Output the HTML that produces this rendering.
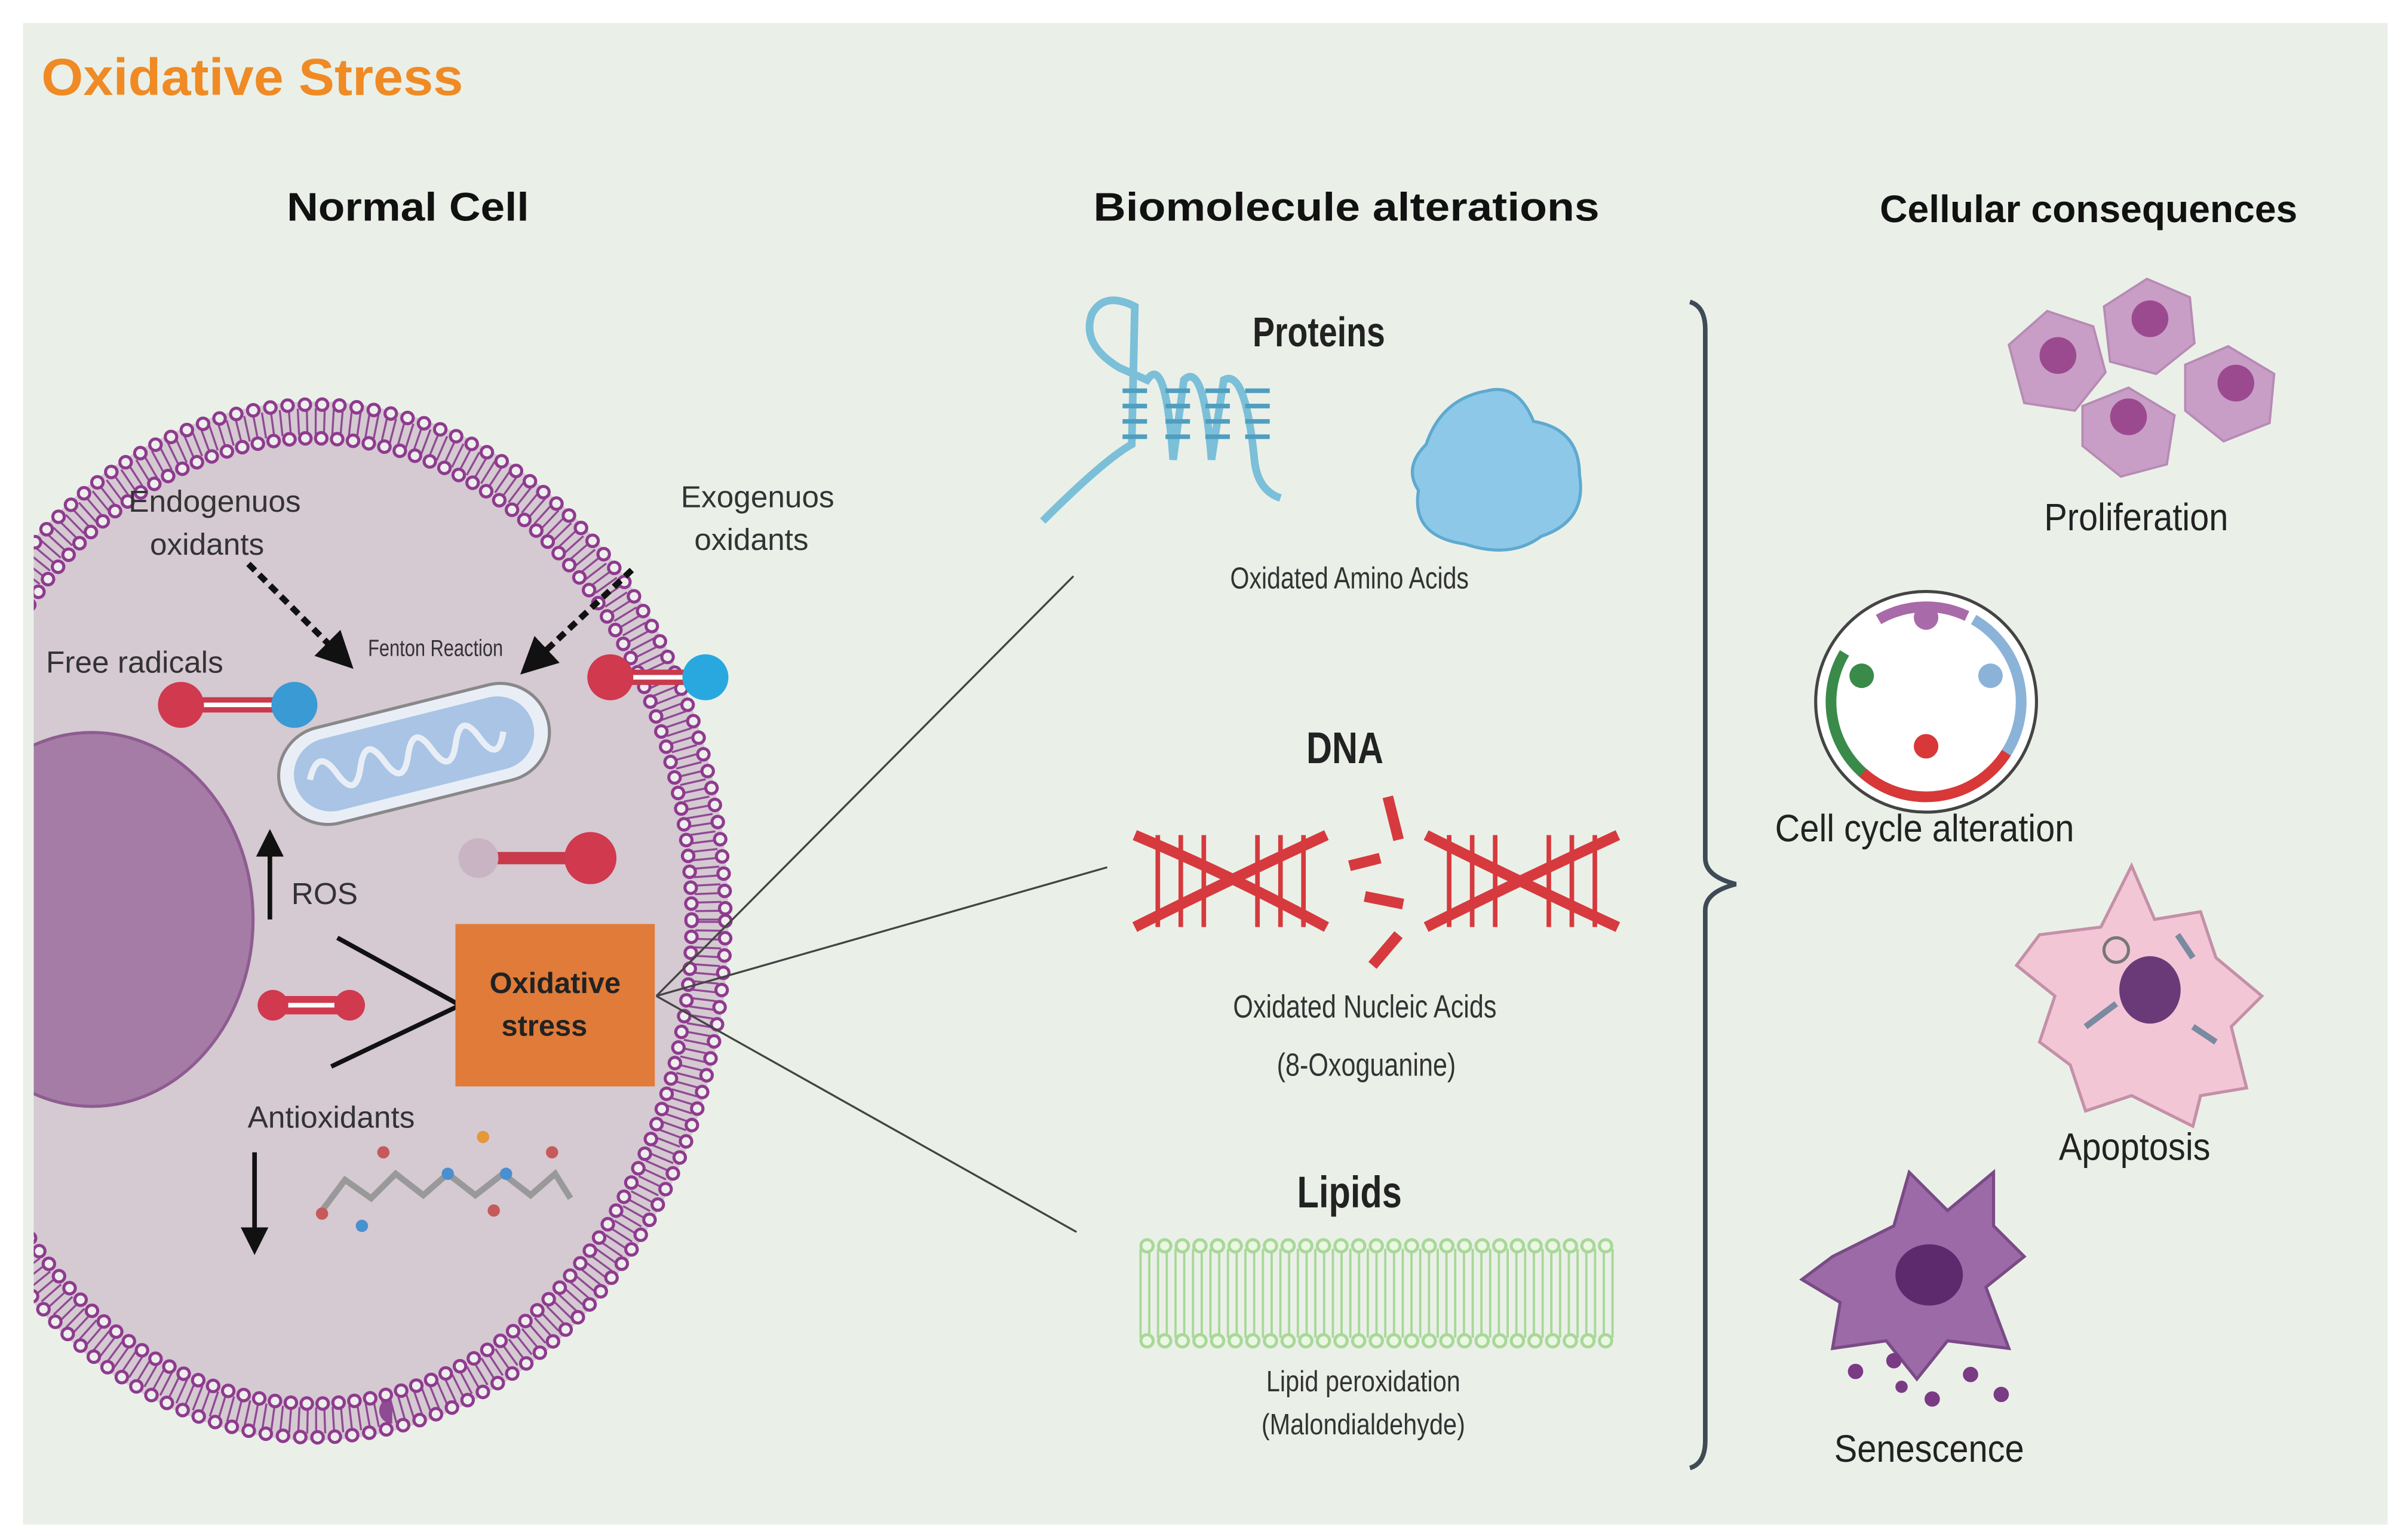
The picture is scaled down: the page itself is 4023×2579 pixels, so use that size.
<!DOCTYPE html>
<html><head><meta charset="utf-8"><style>
html,body{margin:0;padding:0;background:#fff}
svg{display:block}
text{font-family:"Liberation Sans",sans-serif}
</style></head><body>
<svg width="4023" height="2579" viewBox="0 0 1567 1005" preserveAspectRatio="none" xmlns="http://www.w3.org/2000/svg">
<defs>
<clipPath id="cl"><rect x="22" y="0" width="1600" height="1005"/></clipPath>
<marker id="ah" markerWidth="6" markerHeight="6" refX="3" refY="3" orient="auto"><path d="M0,0 L6,3 L0,6 z" fill="#111"/></marker>
</defs>
<rect x="0" y="0" width="1567" height="1005" fill="#fff"/>
<rect x="15" y="15" width="1542" height="980" fill="#eaf0e8"/>
<text x="27" y="62" font-size="34" font-weight="bold" fill="#f08a24" textLength="275" lengthAdjust="spacingAndGlyphs">Oxidative Stress</text>
<text x="187" y="144" font-size="26" font-weight="bold" fill="#111" textLength="158" lengthAdjust="spacingAndGlyphs">Normal Cell</text>
<text x="713" y="144" font-size="26" font-weight="bold" fill="#111" textLength="330" lengthAdjust="spacingAndGlyphs">Biomolecule  alterations</text>
<text x="1362" y="145" font-size="25" font-weight="bold" text-anchor="middle" fill="#111">Cellular consequences</text>

<g clip-path="url(#cl)">
<ellipse cx="205" cy="601" rx="270" ry="339" fill="#d5c9d2"/>
<ellipse cx="205" cy="601" rx="257" ry="326" fill="none" stroke="#8e4a92" stroke-width="17" stroke-dasharray="1.3 4.35"/>
<ellipse cx="205" cy="601" rx="268" ry="337" fill="none" stroke="#8e3a8e" stroke-width="9.5" stroke-linecap="round" stroke-dasharray="0 11.3"/>
<ellipse cx="205" cy="601" rx="268" ry="337" fill="none" stroke="#eee" stroke-width="5.5" stroke-linecap="round" stroke-dasharray="0 11.3"/>
<ellipse cx="205" cy="601" rx="246" ry="315" fill="none" stroke="#8e3a8e" stroke-width="9.5" stroke-linecap="round" stroke-dasharray="0 10.4"/>
<ellipse cx="205" cy="601" rx="246" ry="315" fill="none" stroke="#eee" stroke-width="5.5" stroke-linecap="round" stroke-dasharray="0 10.4"/>
<ellipse cx="60" cy="600" rx="105" ry="122" fill="#a57ca6" stroke="#8d5c90" stroke-width="2"/>
</g>

<g stroke="#444" stroke-width="1.3">
<line x1="428" y1="650" x2="700" y2="376"/>
<line x1="428" y1="650" x2="722" y2="566"/>
<line x1="428" y1="650" x2="702" y2="804"/>
</g>

<text x="140" y="334" font-size="20" text-anchor="middle" fill="#333">Endogenuos</text>
<text x="135" y="362" font-size="20" text-anchor="middle" fill="#333">oxidants</text>
<text x="494" y="331" font-size="20" text-anchor="middle" fill="#333">Exogenuos</text>
<text x="490" y="359" font-size="20" text-anchor="middle" fill="#333">oxidants</text>
<text x="30" y="439" font-size="20" fill="#333">Free radicals</text>
<text x="284" y="428" font-size="15" text-anchor="middle" fill="#333" transform="translate(284 0) scale(0.8 1) translate(-284 0)">Fenton Reaction</text>
<line x1="162" y1="368" x2="222" y2="428" stroke="#111" stroke-width="4" stroke-dasharray="6,4" marker-end="url(#ah)"/>
<line x1="412" y1="372" x2="348" y2="432" stroke="#111" stroke-width="4" stroke-dasharray="6,4" marker-end="url(#ah)"/>
<g><line x1="118" y1="460" x2="190" y2="460" stroke="#c83a4c" stroke-width="10"/><line x1="130" y1="460" x2="190" y2="460" stroke="#fff" stroke-width="3"/><circle cx="118" cy="460" r="15" fill="#d0394e"/><circle cx="192" cy="460" r="15" fill="#3a9ad4"/></g>
<g><line x1="398" y1="442" x2="460" y2="442" stroke="#c83a4c" stroke-width="10"/><line x1="410" y1="442" x2="450" y2="442" stroke="#fff" stroke-width="3"/><circle cx="398" cy="442" r="15" fill="#d0394e"/><circle cx="460" cy="442" r="15" fill="#29a8e0"/></g>
<g><line x1="312" y1="560" x2="384" y2="560" stroke="#c83a4c" stroke-width="8"/><circle cx="312" cy="560" r="13" fill="#c9b4c4"/><circle cx="385" cy="560" r="17" fill="#d0394e"/></g>
<g><line x1="178" y1="656" x2="226" y2="656" stroke="#d0394e" stroke-width="12"/><line x1="185" y1="656" x2="220" y2="656" stroke="#fff" stroke-width="3"/><circle cx="178" cy="656" r="10" fill="#d0394e"/><circle cx="228" cy="656" r="10" fill="#d0394e"/></g>
<g transform="rotate(-14 270 492)">
<rect x="180" y="460" width="180" height="64" rx="32" fill="#e9eef6" stroke="#888" stroke-width="2"/>
<rect x="190" y="468" width="160" height="48" rx="24" fill="#a9c4e4"/>
<path d="M200 492 q10 -20 18 0 q8 20 16 0 q8 -20 16 0 q8 20 16 0 q8 -20 16 0 q8 20 16 0 q8 -20 16 0 q8 20 16 0" stroke="#e9eef6" stroke-width="4" fill="none"/>
</g>
<line x1="176" y1="600" x2="176" y2="550" stroke="#111" stroke-width="3" marker-end="url(#ah)"/>
<text x="190" y="590" font-size="20" fill="#333">ROS</text>
<polyline points="220,612 300,656 216,696" fill="none" stroke="#111" stroke-width="3"/>
<rect x="297" y="603" width="130" height="106" fill="#e07b39"/>
<text x="362" y="648" font-size="19" font-weight="bold" text-anchor="middle" fill="#222">Oxidative</text>
<text x="355" y="676" font-size="19" font-weight="bold" text-anchor="middle" fill="#222">stress</text>
<text x="216" y="736" font-size="20" text-anchor="middle" fill="#333">Antioxidants</text>
<line x1="166" y1="752" x2="166" y2="810" stroke="#111" stroke-width="3" marker-end="url(#ah)"/>
<polyline points="210,790 225,770 242,782 258,766 276,780 292,766 310,780 328,766 346,780 362,766 372,782" fill="none" stroke="#999" stroke-width="4"/>
<g fill="#c65a5a"><circle cx="210" cy="792" r="4"/><circle cx="250" cy="752" r="4"/><circle cx="322" cy="790" r="4"/><circle cx="360" cy="752" r="4"/></g>
<g fill="#4a8fd0"><circle cx="236" cy="800" r="4"/><circle cx="292" cy="766" r="4"/><circle cx="330" cy="766" r="4"/></g>
<circle cx="315" cy="742" r="4" fill="#e5973a"/>

<path d="M680 340 Q720 300 738 290 L740 200 Q720 190 712 205 Q705 225 730 240 L748 248 Q760 230 765 300 L772 248 Q785 235 790 300 L798 248 Q812 240 818 300 Q820 320 835 325" fill="none" stroke="#7cbfd8" stroke-width="5"/>
<g stroke="#4f9ec0" stroke-width="3">
<line x1="732" y1="255" x2="748" y2="255"/><line x1="732" y1="265" x2="748" y2="265"/><line x1="732" y1="275" x2="748" y2="275"/><line x1="732" y1="285" x2="748" y2="285"/>
<line x1="760" y1="255" x2="776" y2="255"/><line x1="760" y1="265" x2="776" y2="265"/><line x1="760" y1="275" x2="776" y2="275"/><line x1="760" y1="285" x2="776" y2="285"/>
<line x1="786" y1="255" x2="802" y2="255"/><line x1="786" y1="265" x2="802" y2="265"/><line x1="786" y1="275" x2="802" y2="275"/><line x1="786" y1="285" x2="802" y2="285"/>
<line x1="812" y1="255" x2="828" y2="255"/><line x1="812" y1="265" x2="828" y2="265"/><line x1="812" y1="275" x2="828" y2="275"/><line x1="812" y1="285" x2="828" y2="285"/>
</g>
<path d="M930 290 q10 -30 40 -35 q20 -5 30 20 q30 5 30 35 q5 30 -25 40 q-20 15 -50 5 q-35 -5 -30 -35 q-10 -15 5 -30z" fill="#8ec8e8" stroke="#5ea9d0" stroke-width="2"/>
<text x="860" y="226" font-size="27" font-weight="bold" text-anchor="middle" fill="#222" transform="translate(860 0) scale(0.8 1) translate(-860 0)">Proteins</text>
<text x="880" y="384" font-size="20" text-anchor="middle" fill="#333" transform="translate(880 0) scale(0.8 1) translate(-880 0)">Oxidated Amino Acids</text>

<text x="877" y="498" font-size="29" font-weight="bold" text-anchor="middle" fill="#222" transform="translate(877 0) scale(0.8 1) translate(-877 0)">DNA</text>
<g stroke="#d63a3e" stroke-width="7" fill="none">
<path d="M740 545 Q800 570 865 605"/><path d="M740 605 Q800 575 865 545"/>
<path d="M930 545 Q990 575 1055 605"/><path d="M930 605 Q990 575 1055 545"/>
<line x1="905" y1="520" x2="912" y2="548"/><line x1="880" y1="565" x2="900" y2="560"/><line x1="890" y1="585" x2="915" y2="590"/><line x1="895" y1="630" x2="912" y2="610"/>
</g>
<g stroke="#d63a3e" stroke-width="3">
<line x1="755" y1="545" x2="755" y2="605"/><line x1="770" y1="545" x2="770" y2="605"/><line x1="785" y1="545" x2="785" y2="605"/><line x1="820" y1="545" x2="820" y2="605"/><line x1="835" y1="545" x2="835" y2="605"/><line x1="850" y1="545" x2="850" y2="605"/>
<line x1="945" y1="545" x2="945" y2="605"/><line x1="960" y1="545" x2="960" y2="605"/><line x1="975" y1="545" x2="975" y2="605"/><line x1="1010" y1="545" x2="1010" y2="605"/><line x1="1025" y1="545" x2="1025" y2="605"/><line x1="1040" y1="545" x2="1040" y2="605"/>
</g>
<text x="890" y="664" font-size="21" text-anchor="middle" fill="#333" transform="translate(890 0) scale(0.8 1) translate(-890 0)">Oxidated Nucleic Acids</text>
<text x="891" y="702" font-size="21" text-anchor="middle" fill="#333" transform="translate(891 0) scale(0.8 1) translate(-891 0)">(8-Oxoguanine)</text>

<text x="880" y="788" font-size="29" font-weight="bold" text-anchor="middle" fill="#222" transform="translate(880 0) scale(0.8 1) translate(-880 0)">Lipids</text>
<line x1="743" y1="844" x2="1056" y2="844" stroke="#a8d898" stroke-width="58" stroke-dasharray="1.5 4.2"/>
<line x1="748" y1="813" x2="1052" y2="813" stroke="#a8d898" stroke-width="10" stroke-linecap="round" stroke-dasharray="0 11.5"/>
<line x1="748" y1="813" x2="1052" y2="813" stroke="#eaf7e2" stroke-width="6" stroke-linecap="round" stroke-dasharray="0 11.5"/>
<line x1="748" y1="875" x2="1052" y2="875" stroke="#a8d898" stroke-width="10" stroke-linecap="round" stroke-dasharray="0 11.5"/>
<line x1="748" y1="875" x2="1052" y2="875" stroke="#eaf7e2" stroke-width="6" stroke-linecap="round" stroke-dasharray="0 11.5"/>
<text x="889" y="908" font-size="19" text-anchor="middle" fill="#333" transform="translate(889 0) scale(0.85 1) translate(-889 0)">Lipid peroxidation</text>
<text x="889" y="936" font-size="19" text-anchor="middle" fill="#333" transform="translate(889 0) scale(0.85 1) translate(-889 0)">(Malondialdehyde)</text>

<path d="M1102 197 Q1112 200 1112 215 L1112 560 Q1112 572 1132 577 Q1112 582 1112 594 L1112 940 Q1112 955 1102 958" fill="none" stroke="#3e4a55" stroke-width="3"/>

<g fill="#c99ec6" stroke="#b68bb5" stroke-width="1.5">
<path d="M1310 225 l25 -22 l30 10 l8 30 l-20 25 l-33 -5 z"/>
<path d="M1372 200 l28 -18 l28 12 l3 30 l-25 20 l-30 -8 z"/>
<path d="M1425 238 l28 -12 l30 18 l-3 32 l-30 12 l-25 -20 z"/>
<path d="M1358 265 l30 -12 l30 18 l-5 32 l-30 8 l-25 -20 z"/>
</g>
<g fill="#9c4a90"><circle cx="1342" cy="232" r="12"/><circle cx="1402" cy="208" r="12"/><circle cx="1458" cy="250" r="12"/><circle cx="1388" cy="272" r="12"/></g>
<text x="1393" y="346" font-size="25" text-anchor="middle" fill="#222" transform="translate(1393 0) scale(0.9 1) translate(-1393 0)">Proliferation</text>

<circle cx="1256" cy="458" r="72" fill="#fff" stroke="#444" stroke-width="2"/>
<circle cx="1256" cy="458" r="62" fill="none" stroke="#3a8a4a" stroke-width="7" stroke-dasharray="120 400" transform="rotate(100 1256 458)"/>
<circle cx="1256" cy="458" r="62" fill="none" stroke="#d83838" stroke-width="7" stroke-dasharray="110 400" transform="rotate(30 1256 458)"/>
<circle cx="1256" cy="458" r="62" fill="none" stroke="#8bb3d8" stroke-width="7" stroke-dasharray="100 400" transform="rotate(-60 1256 458)"/>
<circle cx="1256" cy="458" r="62" fill="none" stroke="#a86aa8" stroke-width="7" stroke-dasharray="60 400" transform="rotate(-120 1256 458)"/>
<circle cx="1256" cy="403" r="8" fill="#a86aa8"/><circle cx="1214" cy="441" r="8" fill="#3a8a4a"/><circle cx="1298" cy="441" r="8" fill="#8bb3d8"/><circle cx="1256" cy="487" r="8" fill="#d83838"/>
<text x="1255" y="549" font-size="25" text-anchor="middle" fill="#222" transform="translate(1255 0) scale(0.9 1) translate(-1255 0)">Cell cycle alteration</text>

<path d="M1330 610 l40 -5 l20 -40 l15 35 l30 -5 l10 30 l30 25 l-20 20 l10 40 l-30 5 l-5 20 l-40 -20 l-30 10 l-10 -30 l-20 -15 l10 -30 l-25 -20 z" fill="#f3c6d6" stroke="#c490a8" stroke-width="2"/>
<ellipse cx="1402" cy="646" rx="20" ry="22" fill="#6a3a78"/>
<g stroke="#7a8aa0" stroke-width="4" fill="none"><path d="M1360 670 l20 -15"/><path d="M1420 610 l10 15"/><path d="M1430 670 l15 10"/></g>
<circle cx="1380" cy="620" r="8" fill="none" stroke="#777" stroke-width="2"/>
<text x="1392" y="757" font-size="25" text-anchor="middle" fill="#222" transform="translate(1392 0) scale(0.9 1) translate(-1392 0)">Apoptosis</text>

<path d="M1195 820 l40 -20 l10 -35 l25 25 l30 -25 l0 35 l20 20 l-25 20 l15 40 l-40 -5 l-20 25 l-20 -25 l-35 5 l5 -30 l-25 -15 z" fill="#9c6aa6" stroke="#7a4a86" stroke-width="2"/>
<ellipse cx="1258" cy="832" rx="22" ry="20" fill="#5e2a6e"/>
<g fill="#7a3a84"><circle cx="1210" cy="895" r="5"/><circle cx="1235" cy="888" r="5"/><circle cx="1260" cy="913" r="5"/><circle cx="1285" cy="897" r="5"/><circle cx="1305" cy="910" r="5"/><circle cx="1240" cy="905" r="4"/></g>
<text x="1258" y="954" font-size="25" text-anchor="middle" fill="#222" transform="translate(1258 0) scale(0.9 1) translate(-1258 0)">Senescence</text>
</svg>
</body></html>
